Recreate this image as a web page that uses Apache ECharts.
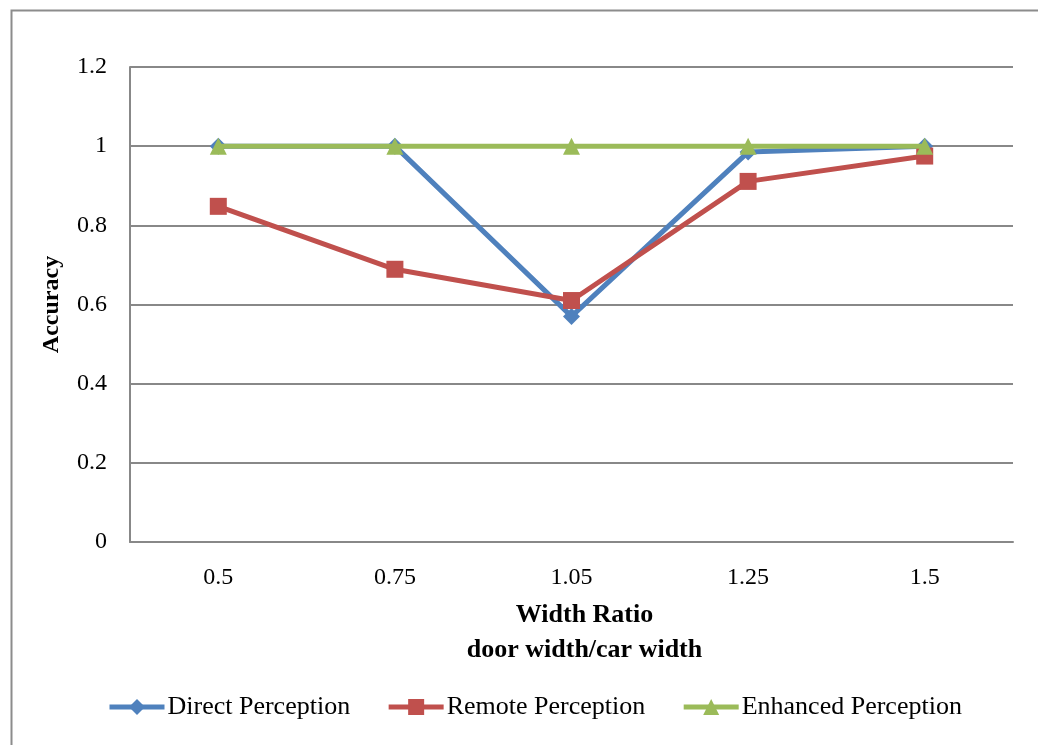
<!DOCTYPE html>
<html><head><meta charset="utf-8">
<script src="https://cdn.jsdelivr.net/npm/echarts@6/dist/echarts.min.js"></script>
<style>html,body{margin:0;padding:0;background:#fff}#c{width:1038px;height:745px}</style>
</head><body><div id="c"></div>
<script>
const categories = ['0.5', '0.75', '1.05', '1.25', '1.5'];
const directPerception = [1, 1, 0.57, 0.985, 1];
const remotePerception = [0.848, 0.689, 0.61, 0.911, 0.975];
const enhancedPerception = [1, 1, 1, 1, 1];
const seriesNames = ['Direct Perception', 'Remote Perception', 'Enhanced Perception'];
const yTicks = { min: 0, max: 1.2, interval: 0.2 };

const FONT = '"Liberation Serif", "Times New Roman", serif';
const chart = echarts.init(document.getElementById('c'), null, { renderer: 'canvas' });
const colors = ['#4F81BD', '#C0504D', '#9BBB59'];
const symbols = ['diamond', 'rect', 'triangle'];
const sizes = [17, 17, 17];
const datas = [directPerception, remotePerception, enhancedPerception];

chart.setOption({
  animation: false,
  backgroundColor: '#fff',
  graphic: [{
    type: 'rect', left: 9, top: 8, silent: true,
    shape: { width: 1100, height: 800 },
    style: { fill: 'none', stroke: '#8c8c8c', lineWidth: 2 }
  }],
  grid: { left: 130, top: 67, right: 25, bottom: 203, containLabel: false },
  legend: {
    left: 102, top: 689, itemWidth: 55, itemHeight: 20, itemGap: 36,
    lineStyle: { width: 5 },
    textStyle: { fontFamily: FONT, fontSize: 26, color: '#000', padding: [0, 0, 0, -2] },
    data: seriesNames
  },
  xAxis: {
    type: 'category', data: categories, boundaryGap: true,
    axisLine: { show: true, lineStyle: { color: '#888', width: 2 } },
    axisTick: { show: false },
    axisLabel: { fontFamily: FONT, fontSize: 24, color: '#000', margin: 24 },
    splitLine: { show: false },
    name: 'Width Ratio\ndoor width/car width', nameLocation: 'middle', nameGap: 56,
    nameTextStyle: { fontFamily: FONT, fontSize: 26, fontWeight: 'bold', color: '#000', lineHeight: 35, padding: [0, 0, 0, 26] }
  },
  yAxis: {
    type: 'value', min: yTicks.min, max: yTicks.max, interval: yTicks.interval,
    axisLine: { show: true, lineStyle: { color: '#888', width: 2 } },
    axisTick: { show: false },
    axisLabel: { fontFamily: FONT, fontSize: 24, color: '#000', margin: 23 },
    splitLine: { show: true, lineStyle: { color: '#888', width: 2 } },
    name: 'Accuracy', nameLocation: 'middle', nameGap: 66, nameRotate: 90,
    nameTextStyle: { fontFamily: FONT, fontSize: 24, fontWeight: 'bold', color: '#000' }
  },
  series: seriesNames.map((n, i) => ({
    name: n, type: 'line', data: datas[i],
    symbol: symbols[i], symbolSize: sizes[i],
    lineStyle: { color: colors[i], width: 5 },
    itemStyle: { color: colors[i] },
    z: 2 + i
  }))
});
</script></body></html>
